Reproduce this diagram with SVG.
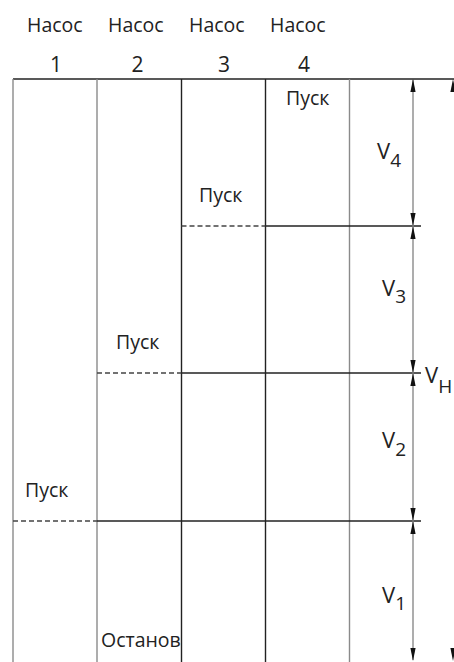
<svg xmlns="http://www.w3.org/2000/svg" width="454" height="662" viewBox="0 0 454 662">
<style>
text{font-family:"Open Sans","DejaVu Sans",sans-serif;fill:#222}
.t{font-size:19.5px}
.n{font-size:21px}
.v{font-size:22px}
.s{font-size:19px}
.g{stroke:#8a8a8a;stroke-width:1.4;fill:none}
.k{stroke:#222;stroke-width:1.4;fill:none}
.d{stroke:#444;stroke-width:1.3;stroke-dasharray:5 3;fill:none}
.ah{fill:#111}
</style>
<defs>
<path id="up" d="M0 0 L-2.6 13 L2.6 13 Z"/>
<path id="dn" d="M0 0 L-2.6 -13 L2.6 -13 Z"/>
</defs>
<g id="headers">
<text class="t" x="27" y="32">Насос</text>
<text class="t" x="108" y="32">Насос</text>
<text class="t" x="189" y="32">Насос</text>
<text class="t" x="270" y="32">Насос</text>
<text class="n" x="56" y="72" text-anchor="middle">1</text>
<text class="n" x="137.5" y="72" text-anchor="middle">2</text>
<text class="n" x="224" y="72" text-anchor="middle">3</text>
<text class="n" x="304" y="72" text-anchor="middle">4</text>
</g>
<g id="grid">
<line class="k" x1="13" y1="79" x2="454" y2="79"/>
<line class="g" x1="13" y1="79" x2="13" y2="662"/>
<line class="g" x1="97" y1="79" x2="97" y2="662"/>
<line class="k" x1="181.5" y1="79" x2="181.5" y2="662"/>
<line class="k" x1="265.5" y1="79" x2="265.5" y2="662"/>
<line class="g" x1="349.5" y1="79" x2="349.5" y2="662"/>
</g>
<g id="levels">
<line class="d" x1="181.5" y1="226" x2="265.5" y2="226"/>
<line class="k" x1="265.5" y1="226" x2="421" y2="226"/>
<line class="d" x1="97" y1="373" x2="181.5" y2="373"/>
<line class="k" x1="181.5" y1="373" x2="421" y2="373"/>
<line class="d" x1="13" y1="521" x2="97" y2="521"/>
<line class="k" x1="97" y1="521" x2="421" y2="521"/>
</g>
<g id="labels">
<text class="t" x="286" y="105">Пуск</text>
<text class="t" x="199" y="202">Пуск</text>
<text class="t" x="116" y="349">Пуск</text>
<text class="t" x="25" y="497">Пуск</text>
<text class="t" x="101" y="647">Останов</text>
</g>
<g id="dimensions">
<line class="g" x1="413" y1="80" x2="413" y2="660"/>
<use href="#up" class="ah" x="413" y="79"/>
<use href="#dn" class="ah" x="413" y="226"/>
<use href="#up" class="ah" x="413" y="226"/>
<use href="#dn" class="ah" x="413" y="373"/>
<use href="#up" class="ah" x="413" y="373"/>
<use href="#dn" class="ah" x="413" y="521"/>
<use href="#up" class="ah" x="413" y="521"/>
<use href="#dn" class="ah" x="413" y="661"/>
<use href="#up" class="ah" x="453" y="79"/>
<use href="#dn" class="ah" x="453" y="661"/>
<text class="v" x="377" y="159">V<tspan class="s" dy="8">4</tspan></text>
<text class="v" x="382" y="296">V<tspan class="s" dy="7">3</tspan></text>
<text class="v" x="382" y="448">V<tspan class="s" dy="8">2</tspan></text>
<text class="v" x="382" y="603">V<tspan class="s" dy="7">1</tspan></text>
<text class="v" x="425" y="383">V<tspan class="s" dy="10">H</tspan></text>
</g>
</svg>
